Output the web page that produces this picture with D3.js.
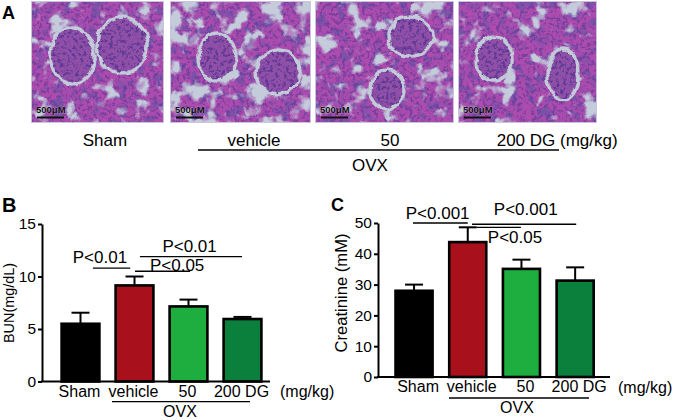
<!DOCTYPE html>
<html>
<head>
<meta charset="utf-8">
<script src="https://cdn.jsdelivr.net/npm/d3@7"></script>
<style>
  html, body { margin: 0; padding: 0; background: #fff; }
  svg { display: block; font-family: "Liberation Sans", Arial, Helvetica, sans-serif; }
</style>
</head>
<body>
<svg id="fig" width="678" height="420"></svg>
<script>
// ---------------- DATA ----------------
const groups = ["Sham", "vehicle", "50", "200 DG"];
const unitLabel = "(mg/kg)";
const ovxLabel = "OVX";
const barColors = ["#000000", "#a8111c", "#1eae3f", "#0b7f3c"];

const bunMean   = [5.5, 9.15, 7.15, 5.95];
const bunErrTop = [6.55, 10.0, 7.8, 6.15];
const bunTicks  = [0, 5, 10, 15];

const creMean   = [28.0, 43.8, 35.1, 31.3];
const creErrTop = [30.0, 48.6, 38.1, 35.6];
const creTicks  = [0, 10, 20, 30, 40, 50];

// significance brackets: from/to/text-x in group-index units, y in data units
const bunSigLabels = ["P<0.01", "P<0.01", "P<0.05"];
const bunSigFrom   = [0.23, 1.10, 1.01];
const bunSigTo     = [0.92, 2.99, 2.03];
const bunSigY      = [10.8, 11.9, 10.5];
const bunSigTextX  = [0.36, 2.02, 1.79];
const bunSigTextY  = [11.3, 12.3, 10.5];

const creSigLabels = ["P<0.001", "P<0.001", "P<0.05"];
const creSigFrom   = [-0.02, 1.08, 1.17];
const creSigTo     = [1.00, 3.02, 1.99];
const creSigY      = [50.0, 49.6, 48.6];
const creSigTextX  = [0.44, 2.08, 1.88];
const creSigTextY  = [51.3, 52.6, 43.5];

const scaleBarText = "500\u03bcM";

// ---------------- DRAW ----------------
const svg = d3.select("#fig");
const defs = svg.append("defs");

// ---- Panel A: histology approximations (decorative) ----
const tiles = [
  {x0: 31,  x1: 164, glom: [[72, 56, 21, 27], [122, 45, 24, 27]], seed: 3,  lum: -3.3},
  {x0: 170, x1: 311, glom: [[217, 57, 17, 23], [278, 72, 21, 21]], seed: 7,  lum: -2.95},
  {x0: 315, x1: 454, glom: [[410, 36, 21, 19], [387, 90, 16, 19]], seed: 11, lum: -3.25},
  {x0: 458, x1: 597, glom: [[494, 59, 17, 21], [563, 75, 15, 24]], seed: 19, lum: -3.4}
];
const tileY0 = 1, tileY1 = 123;

function noiseFilter(id, t, freq, oct, seed, rgb, alphaRow) {
  const f = defs.append("filter").attr("id", id)
    .attr("filterUnits", "userSpaceOnUse")
    .attr("x", t.x0 - 6).attr("y", tileY0 - 6).attr("width", t.x1 - t.x0 + 12).attr("height", tileY1 - tileY0 + 12)
    .attr("color-interpolation-filters", "sRGB");
  f.append("feTurbulence").attr("type", "fractalNoise")
    .attr("baseFrequency", freq).attr("numOctaves", oct).attr("seed", seed);
  f.append("feColorMatrix").attr("type", "matrix")
    .attr("values", `0 0 0 0 ${rgb[0]}  0 0 0 0 ${rgb[1]}  0 0 0 0 ${rgb[2]}  ${alphaRow}`);
}

tiles.forEach((t, i) => {
  const W = t.x1 - t.x0, H = tileY1 - tileY0;
  defs.append("clipPath").attr("id", "clip" + i)
    .append("rect").attr("x", t.x0).attr("y", tileY0).attr("width", W).attr("height", H);
  const gc = defs.append("clipPath").attr("id", "gclip" + i);
  t.glom.forEach(c => gc.append("ellipse").attr("cx", c[0]).attr("cy", c[1]).attr("rx", c[2]).attr("ry", c[3]));

  noiseFilter("vio" + i, t, 0.11, 2, t.seed + 40, [0.48, 0.32, 0.66], "0 5 0 0 -2.5");
  noiseFilter("lum" + i, t, 0.06, 3, t.seed, [0.77, 0.80, 0.86], `6 0 0 0 ${t.lum}`);
  noiseFilter("nuc" + i, t, 0.3, 2, t.seed + 90, [0.36, 0.22, 0.58], "0 0 6 0 -3.0");

  const warp = defs.append("filter").attr("id", "warp" + i)
    .attr("filterUnits", "userSpaceOnUse")
    .attr("x", t.x0 - 6).attr("y", tileY0 - 6).attr("width", W + 12).attr("height", H + 12)
    .attr("color-interpolation-filters", "sRGB");
  warp.append("feTurbulence").attr("type", "fractalNoise").attr("baseFrequency", 0.07)
    .attr("numOctaves", 2).attr("seed", t.seed + 5).attr("result", "n");
  warp.append("feDisplacementMap").attr("in", "SourceGraphic").attr("in2", "n")
    .attr("scale", 7).attr("xChannelSelector", "R").attr("yChannelSelector", "G").attr("result", "d");
  warp.append("feGaussianBlur").attr("in", "d").attr("stdDeviation", 0.55);

  const outer = svg.append("g").attr("clip-path", `url(#clip${i})`);
  outer.append("rect").attr("x", t.x0).attr("y", tileY0).attr("width", W).attr("height", H).attr("fill", "#ab4cae");
  const g = outer.append("g").attr("filter", `url(#warp${i})`);
  const rect = (sel) => sel.append("rect").attr("x", t.x0 - 6).attr("y", tileY0 - 6).attr("width", W + 12).attr("height", H + 12);
  rect(g).attr("fill", "#ab4cae");
  rect(g).attr("filter", `url(#vio${i})`);
  rect(g).attr("filter", `url(#nuc${i})`).attr("opacity", 0.6);
  rect(g).attr("filter", `url(#lum${i})`);
  t.glom.forEach(c => {
    g.append("ellipse").attr("cx", c[0]).attr("cy", c[1]).attr("rx", c[2] + 1).attr("ry", c[3] + 1)
      .attr("fill", "#9050a8").attr("stroke", "#c3cad8").attr("stroke-width", 3.5);
  });
  const gi = g.append("g").attr("clip-path", `url(#gclip${i})`);
  rect(gi).attr("filter", `url(#nuc${i})`).attr("opacity", 0.95);
  // scale bar
  outer.append("line").attr("x1", t.x0 + 6).attr("x2", t.x0 + 33)
    .attr("y1", 117.5).attr("y2", 117.5).attr("stroke", "#111").attr("stroke-width", 2);
  outer.append("text").attr("x", t.x0 + 5).attr("y", 113).attr("font-size", 9.5)
    .attr("fill", "#111").attr("font-weight", "bold")
    .attr("stroke", "rgba(255,255,255,0.45)").attr("stroke-width", 0.6).attr("paint-order", "stroke")
    .text(scaleBarText);
  svg.append("rect").attr("x", t.x0 + 0.5).attr("y", tileY0 + 0.5).attr("width", W - 1).attr("height", H - 1)
    .attr("fill", "none").attr("stroke", "#cbc3dc").attr("stroke-width", 1);
});

// panel letters
svg.append("text").attr("x", 2).attr("y", 19).attr("font-size", 18).attr("font-weight", "bold").text("A");
svg.append("text").attr("x", 2).attr("y", 212).attr("font-size", 20).attr("font-weight", "bold").text("B");
svg.append("text").attr("x", 331).attr("y", 211).attr("font-size", 18).attr("font-weight", "bold").text("C");

// Panel A labels
const topX = d3.scaleOrdinal().domain(groups).range([105, 254, 390, 526]);
svg.selectAll(".toplab").data(groups).enter().append("text")
  .attr("x", d => topX(d)).attr("y", 146).attr("text-anchor", "middle")
  .attr("font-size", 17).text(d => d);
svg.append("text").attr("x", 560).attr("y", 146).attr("font-size", 17).text(unitLabel);
svg.append("line").attr("x1", 198).attr("x2", 559).attr("y1", 150).attr("y2", 150)
  .attr("stroke", "#000").attr("stroke-width", 1.3);
svg.append("text").attr("x", 370).attr("y", 171).attr("text-anchor", "middle")
  .attr("font-size", 17).text(ovxLabel);

// ---- Bar chart helper ----
function barChart(o) {
  const g = svg.append("g");
  const y = d3.scaleLinear().domain(o.domain).range([o.yBottom, o.yTop]);
  const x = d3.scaleBand().domain(groups).range(o.bandRange)
    .paddingInner(o.padInner).paddingOuter(o.padOuter);
  const step = x.step();
  const xc = idx => x(groups[0]) + x.bandwidth() / 2 + idx * step;

  g.selectAll(".bar").data(o.mean).enter().append("rect")
    .attr("x", (d, i) => x(groups[i]))
    .attr("y", d => y(d))
    .attr("width", x.bandwidth())
    .attr("height", d => y(0) - y(d))
    .attr("fill", (d, i) => barColors[i])
    .attr("stroke", "#000").attr("stroke-width", 2.6);

  g.selectAll(".err").data(o.errTop).enter().append("line")
    .attr("x1", (d, i) => xc(i)).attr("x2", (d, i) => xc(i))
    .attr("y1", (d, i) => y(o.mean[i])).attr("y2", d => y(d))
    .attr("stroke", "#000").attr("stroke-width", 2);
  g.selectAll(".cap").data(o.errTop).enter().append("line")
    .attr("x1", (d, i) => xc(i) - 9).attr("x2", (d, i) => xc(i) + 9)
    .attr("y1", d => y(d)).attr("y2", d => y(d))
    .attr("stroke", "#000").attr("stroke-width", 2);

  const ya = g.append("g").attr("transform", `translate(${o.axisX},0)`)
    .call(d3.axisLeft(y).tickValues(o.ticks).tickSize(4).tickSizeOuter(0).tickPadding(2));
  ya.select(".domain").attr("stroke-width", 2);
  ya.selectAll(".tick line").attr("stroke-width", 2);
  ya.selectAll(".tick text").attr("font-size", 15.5).attr("font-family", null).attr("fill", "#000");

  g.append("line").attr("x1", o.axisX - 1).attr("x2", o.axisEnd)
    .attr("y1", y(0)).attr("y2", y(0)).attr("stroke", "#000").attr("stroke-width", 2);

  const xa = g.append("g").attr("transform", `translate(${o.labelShift},${y(0)})`)
    .call(d3.axisBottom(x).tickSize(0).tickPadding(o.labelPad));
  xa.select(".domain").remove();
  xa.selectAll(".tick text").attr("font-size", 16).attr("font-family", null).attr("fill", "#000");

  g.append("text").attr("x", o.unitX).attr("y", o.unitY).attr("font-size", 16).text(unitLabel);
  g.append("line").attr("x1", o.ovxLine[0]).attr("x2", o.ovxLine[1])
    .attr("y1", o.ovxLineY).attr("y2", o.ovxLineY).attr("stroke", "#000").attr("stroke-width", 1.3);
  g.append("text").attr("x", o.ovxX).attr("y", o.ovxY).attr("text-anchor", "middle")
    .attr("font-size", 16).text(ovxLabel);

  g.append("text").attr("transform", `translate(${o.titleX},${o.titleY}) rotate(-90)`)
    .attr("text-anchor", "middle").attr("font-size", o.titleSize)
    .attr("textLength", o.titleLen).attr("lengthAdjust", "spacingAndGlyphs")
    .text(o.title);

  o.sigLabels.forEach((lab, k) => {
    g.append("line").attr("x1", xc(o.sigFrom[k])).attr("x2", xc(o.sigTo[k]))
      .attr("y1", y(o.sigY[k])).attr("y2", y(o.sigY[k]))
      .attr("stroke", "#000").attr("stroke-width", 1.3);
    g.append("text").attr("x", xc(o.sigTextX[k])).attr("y", y(o.sigTextY[k]))
      .attr("text-anchor", "middle").attr("font-size", 17).text(lab);
  });
}

barChart({
  domain: [0, 15], yBottom: 381.5, yTop: 224, ticks: bunTicks,
  bandRange: [53.5, 269.5], padInner: 0.3, padOuter: 0.15,
  mean: bunMean, errTop: bunErrTop,
  axisX: 42, axisEnd: 270, labelShift: -1, labelPad: 4,
  unitX: 280, unitY: 397,
  ovxLine: [112, 250], ovxLineY: 401.7, ovxX: 180, ovxY: 416.5,
  title: "BUN(mg/dL)", titleX: 13.5, titleY: 303, titleSize: 15, titleLen: 80,
  sigLabels: bunSigLabels, sigFrom: bunSigFrom, sigTo: bunSigTo, sigY: bunSigY,
  sigTextX: bunSigTextX, sigTextY: bunSigTextY
});

barChart({
  domain: [0, 50], yBottom: 377, yTop: 223, ticks: creTicks,
  bandRange: [387.2, 602], padInner: 0.31, padOuter: 0.155,
  mean: creMean, errTop: creErrTop,
  axisX: 378, axisEnd: 610, labelShift: 4, labelPad: 4,
  unitX: 618, unitY: 393,
  ovxLine: [449, 589], ovxLineY: 398, ovxX: 517, ovxY: 413,
  title: "Creatinine (mM)", titleX: 347, titleY: 293, titleSize: 16.5, titleLen: 119,
  sigLabels: creSigLabels, sigFrom: creSigFrom, sigTo: creSigTo, sigY: creSigY,
  sigTextX: creSigTextX, sigTextY: creSigTextY
});
</script>
</body>
</html>
